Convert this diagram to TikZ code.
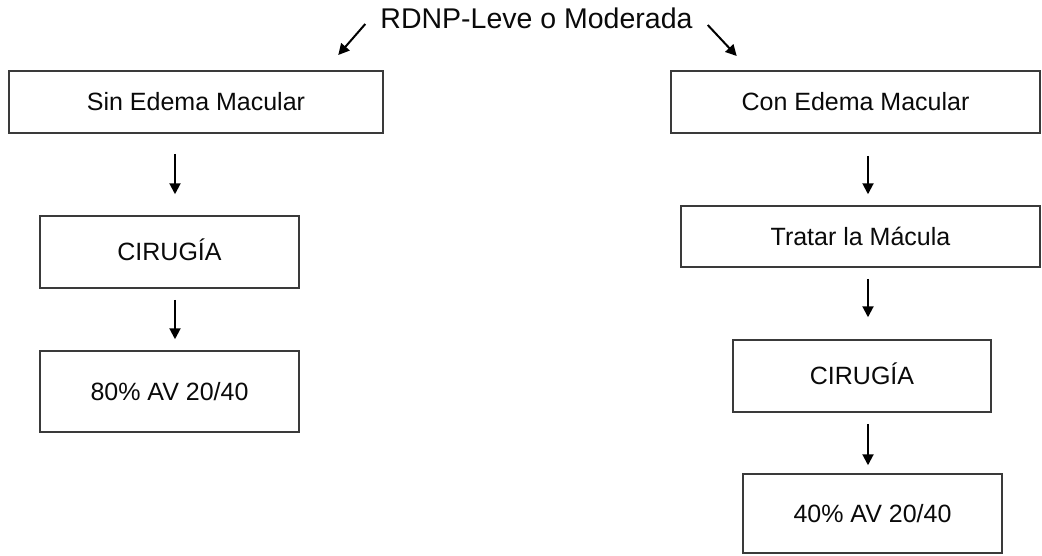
\documentclass[tikz,border=0pt]{standalone}
\usepackage{fontspec}
\setmainfont{Liberation Sans}
\usetikzlibrary{arrows.meta}
\definecolor{boxline}{HTML}{3A3A3A}
\definecolor{ink}{HTML}{0A0A0A}
\tikzset{
  stagebox/.style={draw=boxline, line width=1.5pt, fill=white, text=ink,
    font=\fontsize{25}{29}\selectfont, inner sep=0pt,
    text height=17.9pt, text depth=0pt},
  flowarrow/.style={draw=black, line width=2pt,
    -{Triangle[length=11pt,width=11pt]}},
}
\begin{document}
\begin{tikzpicture}[x=1pt,y=-1pt]
\useasboundingbox (0,0) rectangle (1042,555);

% heading
\node[anchor=base, inner sep=0pt, text=ink, font=\fontsize{28.5}{32}\selectfont]
  (title) at (536.5,28) {RDNP-Leve o Moderada};

% left branch
\node[stagebox, minimum width=374pt, minimum height=62pt] (sin)  at (196,102)   {Sin Edema Macular};
\node[stagebox, minimum width=259pt, minimum height=72pt] (cirL) at (169.5,252) {CIRUGÍA};
\node[stagebox, minimum width=259pt, minimum height=81pt] (resL) at (169.5,391.5) {80\% AV 20/40};

% right branch
\node[stagebox, minimum width=369pt, minimum height=62pt] (con)  at (855.5,102) {Con Edema Macular};
\node[stagebox, minimum width=359pt, minimum height=61pt] (trat) at (860.5,236.5) {Tratar la Mácula};
\node[stagebox, minimum width=258pt, minimum height=72pt] (cirR) at (862,376)   {CIRUGÍA};
\node[stagebox, minimum width=259pt, minimum height=79pt] (resR) at (872.5,513.5) {40\% AV 20/40};

% arrows from the heading
\draw[flowarrow] ([shift={(-15,-4)}]title.base west) -- ++(-27,31);
\draw[flowarrow] ([shift={(15,-3)}]title.base east) -- ++(29,31);

% left column arrows
\draw[flowarrow] ([xshift=5.5pt,yshift=-20pt]cirL.north |- sin.south) -- ([xshift=5.5pt,yshift=21pt]cirL.north);
\draw[flowarrow] ([xshift=5.5pt,yshift=-11pt]cirL.south) -- ([xshift=5.5pt,yshift=11pt]resL.north);

% right column arrows
\draw[flowarrow] ([xshift=7.5pt,yshift=-22pt]trat.north |- con.south) -- ([xshift=7.5pt,yshift=11pt]trat.north);
\draw[flowarrow] ([xshift=7.5pt,yshift=-11pt]trat.south) -- ([xshift=6pt,yshift=22pt]cirR.north);
\draw[flowarrow] ([xshift=6pt,yshift=-11pt]cirR.south) -- ([xshift=-4.5pt,yshift=8pt]resR.north);
\end{tikzpicture}
\end{document}
